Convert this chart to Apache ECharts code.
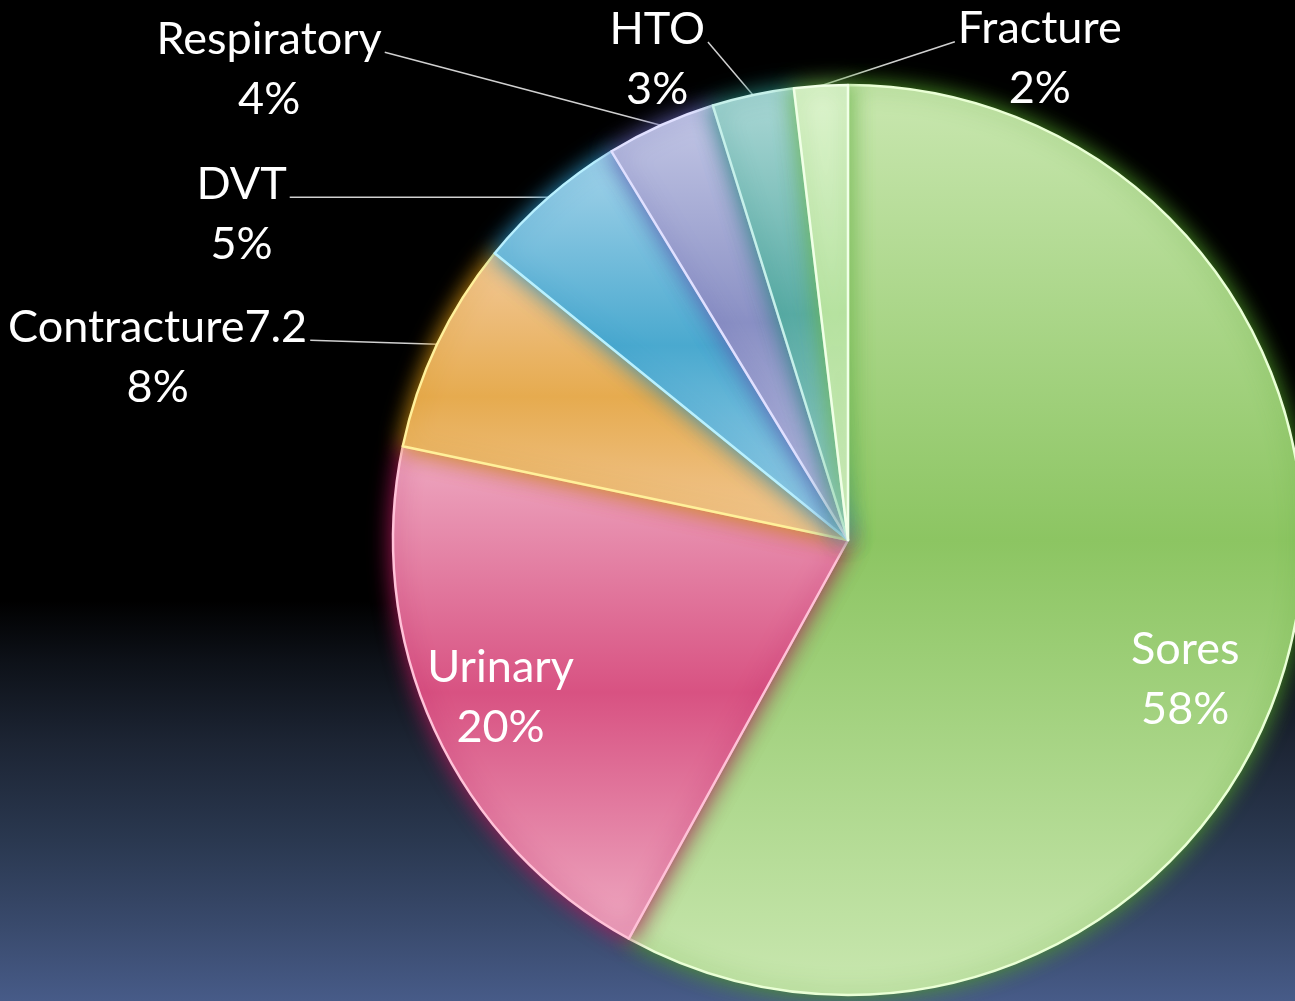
<!DOCTYPE html>
<html>
<head>
<meta charset="utf-8">
<script src="https://cdn.jsdelivr.net/npm/echarts@6/dist/echarts.min.js"></script>
<style>
  html, body { margin: 0; padding: 0; background: #000; }
  #chart {
    width: 1295px; height: 1001px;
    background: linear-gradient(to bottom, #000000 0%, #000000 60%, #0d1118 66%, #1c2433 74%, #2a3850 84%, #3a4b6e 93%, #475b88 100%);
  }
</style>
</head>
<body>
<div id="chart"></div>
<script>
// ---- data ----
const categories = ['Sores', 'Urinary', 'Contracture7.2', 'DVT', 'Respiratory', 'HTO', 'Fracture'];
const values = [58, 20.3, 7.55, 5.45, 3.9, 2.9, 1.9];

// ---- styles ----
const mainColors  = ['#8cc562', '#d85282', '#e6ab4f', '#4aa9cf', '#8a90c4', '#5aaca5', '#bde6a8'];
const lightColors = ['#c9e7b0', '#eeaac2', '#f2c99a', '#a6d4ea', '#c4c8e6', '#acd8d6', '#def4cf'];
const edgeColors  = ['#eaffd6', '#ffc2d8', '#fff09a', '#b8f0ff', '#e0e0ff', '#c6f0ea', '#f0ffe6'];
const glowColors  = ['#4e9a28', '#b0185a', '#d09010', '#2a90c0', '#6060b0', '#2a8a80', '#70b850'];
const insideLabel = [true, true, false, false, false, false, false];
// label offsets relative to the library-computed anchor (outside) / default position (inside)
const labelOffsets = [[114, 82], [-138, 61], [-127, -4], [-259, 0], [-276, -73], [-45, -53], [134, -44]];

const chart = echarts.init(document.getElementById('chart'), null, { renderer: 'canvas' });

const seriesData = categories.map((name, i) => ({
  name: name,
  value: values[i],
  itemStyle: {
    color: {
      type: 'linear', x: 0, y: 0, x2: 0, y2: 1,
      colorStops: [
        { offset: 0, color: lightColors[i] },
        { offset: 0.5, color: mainColors[i] },
        { offset: 1, color: lightColors[i] }
      ]
    },
    borderColor: edgeColors[i],
    borderWidth: 2.5,
    shadowBlur: 22,
    shadowColor: glowColors[i]
  },
  label: { position: insideLabel[i] ? 'inside' : 'outside' },
  labelLine: { show: !insideLabel[i] }
}));

const font = 'Lato, "Open Sans", sans-serif';

chart.setOption({
  backgroundColor: 'transparent',
  animation: false,
  series: [{
    type: 'pie',
    center: [848, 540],
    radius: [0, 455],
    startAngle: 90,
    clockwise: true,
    percentPrecision: 0,
    avoidLabelOverlap: false,
    data: seriesData,
    label: {
      show: true,
      color: '#ffffff',
      fontFamily: font,
      fontSize: 45,
      lineHeight: 60,
      formatter: '{n|{b}}\n{p|{d}%}',
      rich: {
        n: { align: 'center', color: '#ffffff', fontFamily: font, fontSize: 45, lineHeight: 60 },
        p: { align: 'center', color: '#ffffff', fontFamily: font, fontSize: 45, lineHeight: 60 }
      }
    },
    labelLine: {
      show: true,
      length: 20,
      length2: 20,
      lineStyle: { color: '#d0d0d0', width: 1.5 }
    },
    labelLayout: function (params) {
      const i = params.dataIndex;
      const off = labelOffsets[i];
      if (insideLabel[i]) {
        return { dx: off[0], dy: off[1] };
      }
      const a = params.labelLinePoints[0];
      const ax = a[0] + off[0], ay = a[1] + off[1];
      const right = off[0] > 0;
      return {
        x: right ? ax + 3 : ax - 3,
        y: ay + 17,
        align: right ? 'left' : 'right',
        verticalAlign: 'middle',
        labelLinePoints: [[a[0], a[1]], [ax, ay], [ax, ay]]
      };
    }
  }]
});
</script>
</body>
</html>
